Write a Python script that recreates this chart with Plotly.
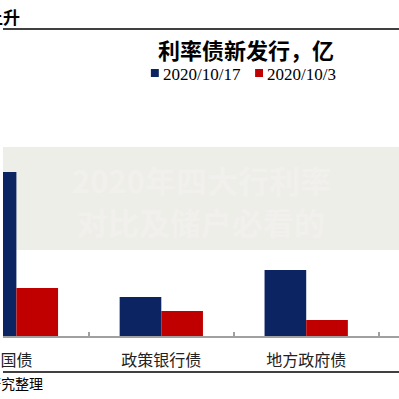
import plotly.graph_objects as go

categories = ["国债", "政策银行债", "地方政府债"]
series_names = ["2020/10/17", "2020/10/3"]
values_1017 = [1640, 390, 660]
values_103 = [480, 250, 160]
colors = ["#0c2461", "#c00000"]

W = H = 399
def px(x):
    return x / W
def py(y):
    return 1 - y / H

fig = go.Figure()
for name, vals, col in zip(series_names, [values_1017, values_103], colors):
    fig.add_trace(go.Bar(x=categories, y=vals, name=name, marker_color=col,
                         marker_line_width=0, showlegend=False, hoverinfo="skip"))

fig.update_layout(
    width=W, height=H,
    margin=dict(l=0, r=0, t=0, b=0),
    paper_bgcolor="white", plot_bgcolor="white",
    barmode="group", bargap=0.425, bargroupgap=0,
    xaxis=dict(domain=[0, 1], range=[-0.0925, 2.6404], type="category",
               showline=True, linecolor="#a0a0a0", linewidth=2,
               ticks="inside", ticklen=4, tickcolor="#a0a0a0", tickwidth=1.5,
               tickson="boundaries", showgrid=False, zeroline=False,
               tickfont=dict(family="Noto Sans CJK SC", size=16, color="#222"),
               ticklabelstandoff=9),
    yaxis=dict(domain=[63 / H, 1 - 100 / H], range=[0, 2360], visible=False,
               showgrid=False, zeroline=False),
    font=dict(family="Noto Sans CJK SC"),
)

shapes = [
    # watermark band
    dict(type="rect", xref="paper", yref="paper", x0=0, x1=1, y0=py(250), y1=py(147),
         fillcolor="#eeeee9", line_width=0, layer="below"),
    # top rule
    dict(type="line", xref="paper", yref="paper", x0=0, x1=1, y0=py(29), y1=py(29),
         line=dict(color="black", width=1.5)),
    # bottom rule
    dict(type="line", xref="paper", yref="paper", x0=0, x1=1, y0=py(372), y1=py(372),
         line=dict(color="black", width=1.5)),
]
# legend squares
for xs, col in zip([149, 254], colors):
    shapes.append(dict(type="rect", xref="paper", yref="paper", x0=px(xs), x1=px(xs + 8),
                       y0=py(77), y1=py(69), fillcolor=col, line_width=0))
fig.update_layout(shapes=shapes)

ann = [
    dict(text="<b>上升</b>", x=px(19), y=py(16), xanchor="right", yanchor="middle",
         font=dict(family="Noto Sans CJK SC", size=17, color="black")),
    dict(text="<b>利率债新发行，亿</b>", x=px(245), y=py(49), xanchor="center", yanchor="middle",
         font=dict(family="Noto Sans CJK SC", size=22, color="black")),
    dict(text="<b>2020年四大行利率</b>", x=px(200), y=py(179), xanchor="center", yanchor="middle",
         font=dict(family="Noto Sans CJK SC", size=31, color="#f1f0ec")),
    dict(text="<b>对比及储户必看的</b>", x=px(200), y=py(221), xanchor="center", yanchor="middle",
         font=dict(family="Noto Sans CJK SC", size=31, color="#f1f0ec")),
    dict(text="研究整理", x=px(42), y=py(383), xanchor="right", yanchor="middle",
         font=dict(family="Noto Sans CJK SC", size=14, color="black")),
]
for xs, name in zip([159, 264], series_names):
    ann.append(dict(text=name, x=px(xs), y=py(74), xanchor="left", yanchor="middle",
                    font=dict(family="Liberation Serif", size=17, color="black")))
for a in ann:
    a.update(xref="paper", yref="paper", showarrow=False)
fig.update_layout(annotations=ann, hovermode=False)

fig.write_html("out.html", config={"displayModeBar": False},
               post_script="document.body.style.margin='0px';")
